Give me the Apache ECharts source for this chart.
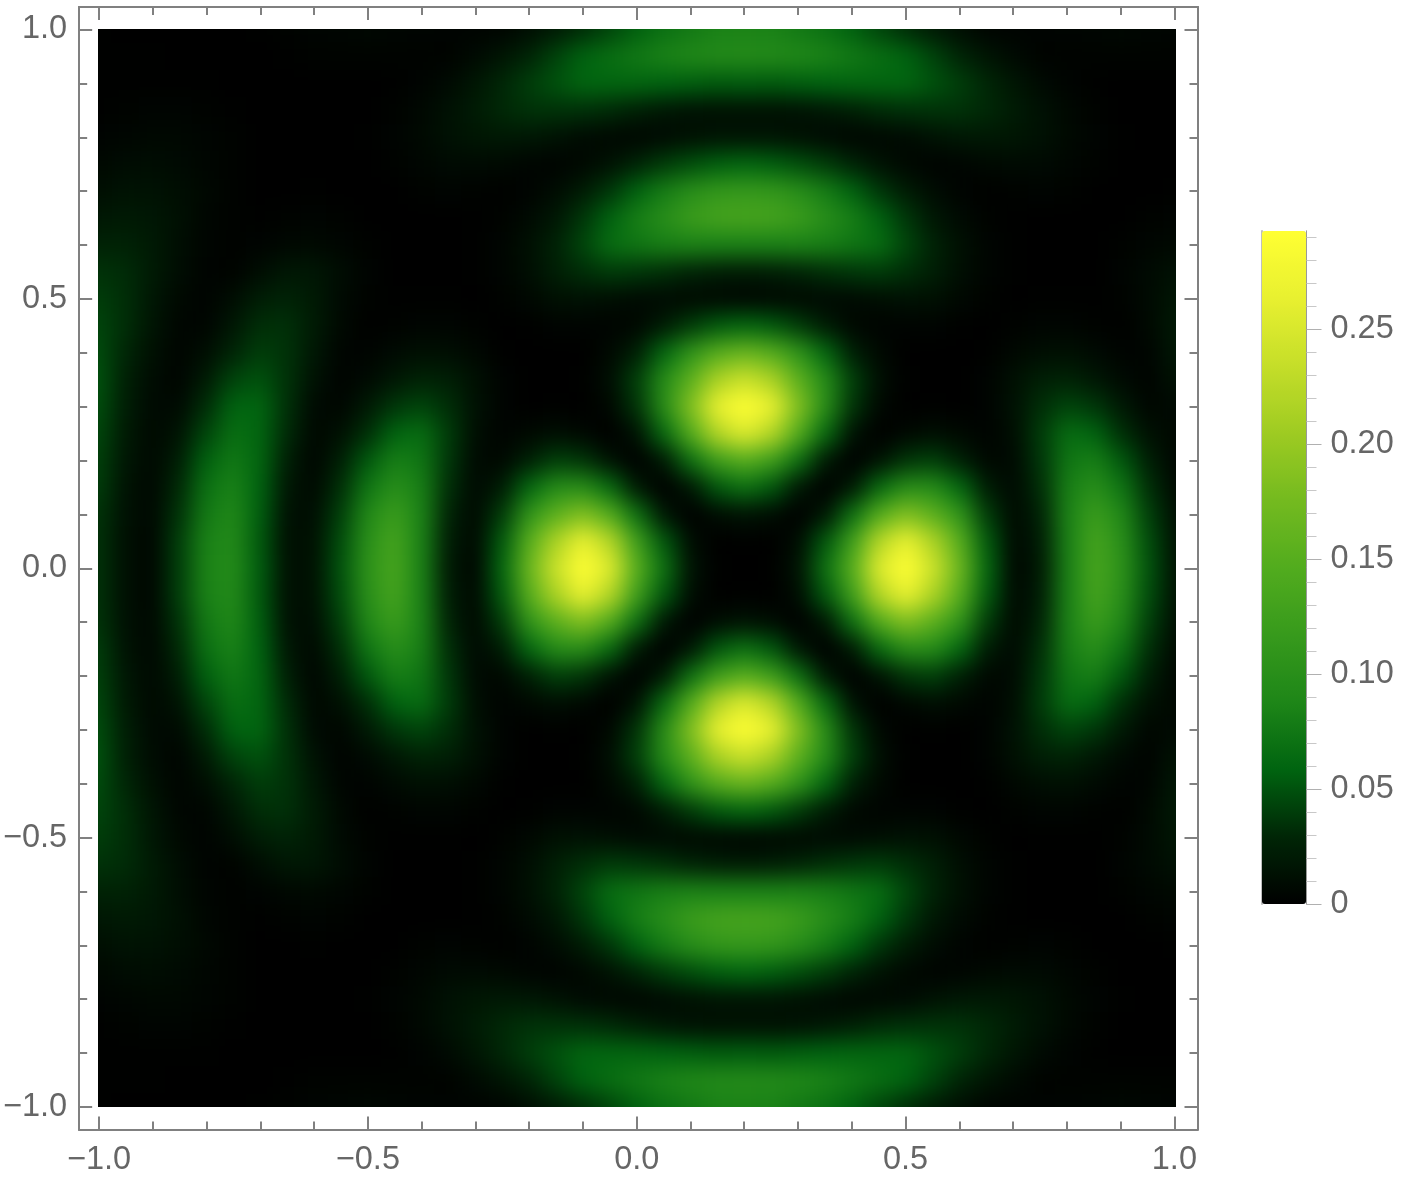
<!DOCTYPE html>
<html>
<head>
<meta charset="utf-8">
<style>
  html, body { margin: 0; padding: 0; background: #fff; }
  #main { width: 1417px; height: 1180px; }
</style>
<script src="https://cdn.jsdelivr.net/npm/echarts@6/dist/echarts.min.js"></script>
</head>
<body>
<div id="main"></div>
<script>
// density, in thousandths, x from -1 to 1 in steps of 0.05
// one array per y level, the picture is mirrored about y = 0
var y100 = [1,0,0,0,0,0,1,2,4,5,6,5,4,3,3,4,11,20,32,44,57,69,77,84,85,84,77,69,57,44,32,20,11,4,3,3,4,5,6,5,4];
var y095 = [1,1,1,0,0,0,0,1,2,2,2,2,2,2,8,16,28,43,58,67,76,84,90,94,95,94,90,84,76,67,58,43,28,16,8,2,2,2,2,2,2];
var y090 = [1,1,1,1,1,0,0,0,0,0,0,1,3,8,17,29,40,50,60,60,60,58,56,54,55,54,56,58,60,60,60,50,40,29,17,8,3,1,0,0,0];
var y085 = [1,2,3,3,2,1,0,0,0,0,0,2,6,13,21,30,35,35,34,31,24,18,13,12,12,12,13,18,24,31,34,35,35,30,21,13,6,2,0,0,0];
var y080 = [3,5,6,6,4,2,0,0,0,0,1,3,7,13,17,19,18,14,8,6,5,8,12,15,15,15,12,8,5,6,8,14,18,19,17,13,7,3,1,0,0];
var y075 = [6,9,10,8,5,2,0,0,0,0,0,2,5,8,8,7,4,3,6,14,27,39,48,56,60,56,48,39,27,14,6,3,4,7,8,8,5,2,0,0,0];
var y070 = [11,15,14,11,6,2,0,0,1,0,0,0,2,3,2,1,3,9,21,37,58,80,100,112,116,112,100,80,58,37,21,9,3,1,2,3,2,0,0,0,1];
var y065 = [18,20,18,12,5,2,1,2,3,2,0,0,0,0,1,2,8,18,37,58,81,100,120,132,134,132,120,100,81,58,37,18,8,2,1,0,0,0,0,2,3];
var y060 = [26,26,20,11,4,2,3,6,7,5,2,0,0,0,1,4,12,26,44,66,74,82,85,84,84,84,85,82,74,66,44,26,12,4,1,0,0,0,2,5,7];
var y055 = [35,32,21,10,3,2,10,18,18,10,3,0,0,0,1,4,11,24,33,39,37,33,27,22,20,22,27,33,37,39,33,24,11,4,1,0,0,0,3,8,13];
var y050 = [40,33,18,7,3,10,22,27,20,8,2,1,1,1,0,2,6,12,13,11,8,8,7,6,5,6,7,8,8,11,13,12,6,2,0,1,1,1,2,8,17];
var y045 = [44,33,16,5,4,18,33,34,21,7,1,2,4,4,2,0,1,3,3,3,6,21,39,54,60,54,39,21,6,3,3,3,1,0,2,4,4,2,1,7,19];
var y040 = [47,29,12,4,11,28,40,35,18,4,3,8,12,11,6,1,0,0,0,7,24,61,108,149,165,149,108,61,24,7,0,0,0,1,6,11,12,8,3,4,18];
var y035 = [50,25,9,4,20,43,50,35,14,3,8,18,26,24,12,3,0,0,1,11,41,96,155,215,240,215,155,96,41,11,1,0,0,3,12,24,26,18,8,3,14];
var y030 = [48,23,8,8,32,58,60,34,8,5,19,37,44,33,13,3,0,1,0,6,36,98,184,266,300,266,184,98,36,6,0,1,0,3,13,33,44,37,19,5,8];
var y025 = [45,20,7,15,44,67,60,31,6,12,33,58,66,39,11,3,7,11,6,0,14,64,146,222,255,222,146,64,14,0,6,11,7,3,11,39,66,58,33,12,6];
var y020 = [42,18,7,22,57,76,60,24,5,23,53,81,74,37,8,6,24,41,36,14,0,19,69,125,150,125,69,19,0,14,36,41,24,6,8,37,74,81,53,23,5];
var y015 = [40,15,6,30,69,84,58,18,7,33,73,100,82,33,8,21,61,96,98,64,19,0,18,53,70,53,18,0,19,64,98,96,61,21,8,33,82,100,73,33,7];
var y010 = [36,13,6,35,77,90,56,13,10,41,90,120,85,27,7,39,108,155,184,146,69,18,0,10,15,10,0,18,69,146,184,155,108,39,7,27,85,120,90,41,10];
var y005 = [35,12,5,40,84,94,54,12,12,47,101,132,84,22,6,54,149,215,266,222,125,53,10,0,1,0,10,53,125,222,266,215,149,54,6,22,84,132,101,47,12];
var y000 = [35,12,5,40,85,95,55,12,12,50,105,134,84,20,5,60,165,240,300,255,150,70,15,1,0,1,15,70,150,255,300,240,165,60,5,20,84,134,105,50,12];

var upperRows = [y100,y095,y090,y085,y080,y075,y070,y065,y060,y055,y050,y045,y040,y035,y030,y025,y020,y015,y010,y005,y000];

var majorTicks = [-1, -0.5, 0, 0.5, 1];
var minorTicks = [-0.9,-0.8,-0.7,-0.6,-0.4,-0.3,-0.2,-0.1,0.1,0.2,0.3,0.4,0.6,0.7,0.8,0.9];
var barMajor = [0, 0.05, 0.1, 0.15, 0.2, 0.25];
var barMinor = [0.01,0.02,0.03,0.04,0.06,0.07,0.08,0.09,0.11,0.12,0.13,0.14,0.16,0.17,0.18,0.19,0.21,0.22,0.23,0.24,0.26,0.27,0.28,0.29];
var barColors = ['#000000','#002606','#006410','#1e8618','#379a1c','#52ac1e','#74ba1f','#9ecb22','#c5de29','#e8f030','#ffff33'];
var barMax = 0.2926;

var frameColor = '#808080';
var textColor = '#666666';

// the outer cells are repeated once so the blur has something to read past the plot edge
function padRow(r) { return [r[0]].concat(r, [r[r.length - 1]]); }

var rows = upperRows.concat(upperRows.slice(0, 20).reverse()); // y = 1 down to -1
rows = rows.map(padRow);
rows = [rows[0]].concat(rows, [rows[rows.length - 1]]);

var heatData = [];
var idx = [];
for (var i = 0; i < rows[0].length; i++) idx.push(String(i));
for (var r = 0; r < rows.length; r++) {
  for (var c = 0; c < rows[r].length; c++) {
    heatData.push([c, rows.length - 1 - r, rows[r][c] / 1000]);
  }
}

function fmt(v) { return v.toFixed(1).replace('-', '\u2212'); }

// frame axis: one for the long ticks and labels, one for the short ticks
function xAxisOf(pos, ticks, len, labels) {
  return {
    type: 'value', gridIndex: 1, position: pos, zlevel: 1,
    min: -1.037, max: 1.043,
    splitLine: { show: false },
    axisLine: { show: true, onZero: false, lineStyle: { color: frameColor, width: 2 } },
    axisTick: { show: true, inside: true, length: len, customValues: ticks, lineStyle: { color: frameColor, width: 2 } },
    axisLabel: { show: labels, customValues: majorTicks, margin: 14, fontSize: 32.5, fontFamily: 'Liberation Sans', color: textColor, formatter: fmt, hideOverlap: false }
  };
}
function yAxisOf(pos, ticks, len, labels) {
  return {
    type: 'value', gridIndex: 1, position: pos, zlevel: 1,
    min: -1.0418, max: 1.0418,
    splitLine: { show: false },
    axisLine: { show: true, onZero: false, lineStyle: { color: frameColor, width: 2 } },
    axisTick: { show: true, inside: true, length: len, customValues: ticks, lineStyle: { color: frameColor, width: 2 } },
    axisLabel: { show: labels, customValues: majorTicks, margin: 12, padding: [6, 0, 0, 0], fontSize: 32.5, fontFamily: 'Liberation Sans', color: textColor, formatter: fmt, hideOverlap: false }
  };
}
function barAxis(ticks, len, labels, tickColor) {
  return {
    type: 'value', gridIndex: 2, position: 'right', zlevel: 1,
    min: 0, max: barMax,
    splitLine: { show: false },
    axisLine: { show: true, onZero: false, lineStyle: { color: '#999999', width: 1 } },
    axisTick: { show: true, length: len, customValues: ticks, lineStyle: { color: tickColor, width: 1 } },
    axisLabel: {
      show: labels, customValues: barMajor, margin: 24, padding: [6, 0, 0, 0], fontSize: 32.5, fontFamily: 'Liberation Sans', color: textColor, hideOverlap: false,
      formatter: function (v) { return v === 0 ? '0' : v.toFixed(2); }
    }
  };
}

var myChart = echarts.init(document.getElementById('main'));

var option = {
  animation: false,
  grid: [
    { left: 57.6, top: -10.9, width: 1158.9, height: 1158.4, outerBoundsMode: 'none' },
    { left: 76.5, top: 7, width: 1121, height: 1122.5 },
    { left: 1262, top: 231, width: 44.5, height: 673 }
  ],
  xAxis: [
    { type: 'category', gridIndex: 0, data: idx, show: false, zlevel: 0 },
    xAxisOf('bottom', majorTicks, 13, true),
    xAxisOf('bottom', minorTicks, 8, false),
    xAxisOf('top', majorTicks, 13, false),
    xAxisOf('top', minorTicks, 8, false),
    { type: 'value', gridIndex: 2, show: false, min: 0, max: 1 }
  ],
  yAxis: [
    { type: 'category', gridIndex: 0, data: idx, show: false, zlevel: 0 },
    yAxisOf('left', majorTicks, 13, true),
    yAxisOf('left', minorTicks, 8, false),
    yAxisOf('right', majorTicks, 13, false),
    yAxisOf('right', minorTicks, 8, false),
    barAxis(barMajor, 15, true, '#b0b0b0'),
    barAxis(barMinor, 10, false, '#c8c8c8'),
    {
      type: 'value', gridIndex: 2, position: 'left', zlevel: 1, min: 0, max: barMax,
      splitLine: { show: false }, axisTick: { show: false }, axisLabel: { show: false },
      axisLine: { show: true, onZero: false, lineStyle: { color: 'rgba(0,0,0,0.25)', width: 2 } }
    }
  ],
  visualMap: {
    type: 'continuous',
    seriesIndex: 0,
    min: 0,
    max: barMax,
    left: 1262,
    top: 231,
    padding: 0,
    itemWidth: 44,
    itemHeight: 673,
    text: ['', ''],
    calculable: false,
    hoverLink: false,
    zlevel: 1,
    inRange: { color: barColors }
  },
  series: [{
    type: 'heatmap',
    xAxisIndex: 0,
    yAxisIndex: 0,
    zlevel: 0,
    progressive: 0,
    silent: true,
    data: heatData
  }]
};

myChart.setOption(option, true);

// the picture is a smooth density: soften the heatmap's layer and cut it back to the plot area
var heatLayer = document.querySelector('#main canvas');
heatLayer.style.background = '#000';
heatLayer.style.filter = 'blur(11px)';
heatLayer.style.clipPath = 'inset(29.5px 241px 73px 98px)';
</script>
</body>
</html>
